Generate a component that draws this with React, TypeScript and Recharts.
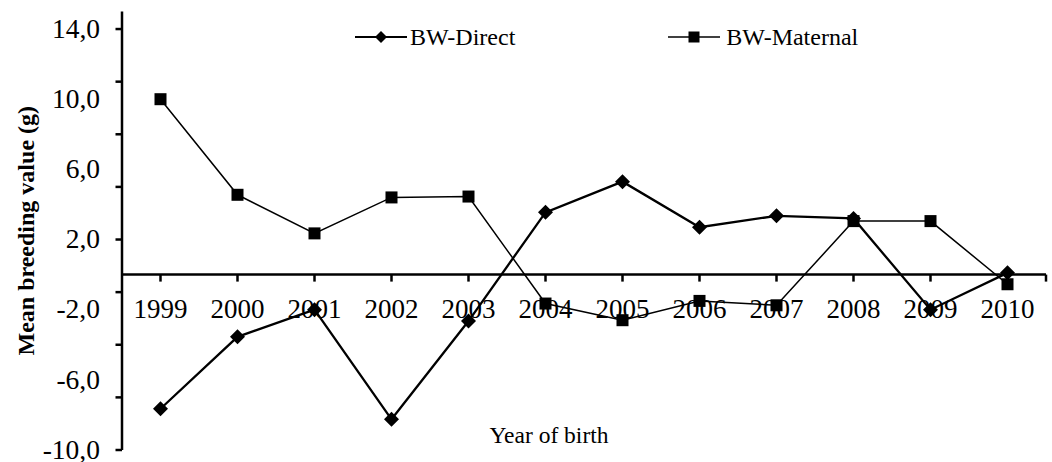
import { LineChart, Line, XAxis, YAxis, ReferenceLine, Legend } from "recharts";

const years = [1999, 2000, 2001, 2002, 2003, 2004, 2005, 2006, 2007, 2008, 2009, 2010];
const bwDirect = [-7.65, -3.55, -2.0, -8.25, -2.65, 3.55, 5.3, 2.7, 3.35, 3.2, -2.0, 0.1];
const bwMaternal = [10.0, 4.55, 2.35, 4.4, 4.45, -1.65, -2.6, -1.5, -1.75, 3.05, 3.05, -0.55];
const yLabelTicks = [14, 10, 6, 2, -2, -6, -10];
const yMarkTicks = [14, 11, 8, 5, 2, -1, -4, -7, -10];
const xTicks = [...years, 2010.5];

const data = years.map((year, i) => ({
  year,
  direct: bwDirect[i],
  maternal: bwMaternal[i],
}));

const W = 1052;
const H = 462;
const M = { top: 11.5, right: 6, bottom: 11, left: 0 };
const Y_AXIS_W = 122;
const X_AXIS_H = 1;
const Y_MIN = -10;
const Y_MAX = 15;
const PLOT_H = H - M.top - M.bottom - X_AXIS_H;
// pixel row of y = 0, where the category axis sits
const ZERO_Y = M.top + ((Y_MAX - 0) / (Y_MAX - Y_MIN)) * PLOT_H;

const FONT = '"Liberation Serif", "Times New Roman", serif';

const yTickValues = [...new Set([...yLabelTicks, ...yMarkTicks])].sort((a, b) => b - a);

const fmt = (v: number) => v.toFixed(1).replace(".", ",");

function YTick(props: any) {
  const { y, payload } = props;
  const v = payload.value;
  return (
    <g>
      {yMarkTicks.includes(v) && (
        <line x1={Y_AXIS_W - 6.5} x2={Y_AXIS_W} y1={y} y2={y} stroke="#000" strokeWidth={2.5} />
      )}
      {yLabelTicks.includes(v) && (
        <text x={100} y={y} dy="0.32em" textAnchor="end" fontFamily={FONT} fontSize={27.5} fill="#000">
          {fmt(v)}
        </text>
      )}
    </g>
  );
}

function XTick(props: any) {
  const { x, payload } = props;
  const v = payload.value;
  return (
    <g>
      <line x1={x} x2={x} y1={ZERO_Y} y2={ZERO_Y + 7} stroke="#000" strokeWidth={2.5} />
      {Number.isInteger(v) && (
        <text x={x} y={ZERO_Y + 34} dy="0.36em" textAnchor="middle" fontFamily={FONT} fontSize={27} fill="#000">
          {v}
        </text>
      )}
    </g>
  );
}

function DiamondDot(props: any) {
  const { cx, cy, index } = props;
  const r = 7.5;
  return (
    <path
      key={`d-${index}`}
      d={`M${cx},${cy - r}L${cx + r},${cy}L${cx},${cy + r}L${cx - r},${cy}Z`}
      fill="#000"
    />
  );
}

function SquareDot(props: any) {
  const { cx, cy, index } = props;
  const s = 12;
  return <rect key={`s-${index}`} x={cx - s / 2} y={cy - s / 2} width={s} height={s} fill="#000" />;
}

function LegendContent() {
  return (
    <div
      style={{
        display: "flex",
        alignItems: "center",
        fontFamily: FONT,
        fontSize: 24,
        lineHeight: "28px",
        color: "#000",
        whiteSpace: "nowrap",
      }}
    >
      <svg width={52} height={14} style={{ display: "block" }}>
        <line x1={0} x2={52} y1={7} y2={7} stroke="#000" strokeWidth={2.2} />
        <path d="M26,1L32,7L26,13L20,7Z" fill="#000" />
      </svg>
      <span style={{ marginLeft: 3 }}>BW-Direct</span>
      <svg width={52} height={14} style={{ display: "block", marginLeft: 153 }}>
        <line x1={0} x2={52} y1={7} y2={7} stroke="#000" strokeWidth={1.6} />
        <rect x={20.5} y={1.5} width={11} height={11} fill="#000" />
      </svg>
      <span style={{ marginLeft: 6 }}>BW-Maternal</span>
    </div>
  );
}

export default function App() {
  return (
    <div style={{ position: "absolute", left: 0, top: 0, background: "#fff" }}>
      <LineChart width={W} height={H} data={data} margin={M}>
        <XAxis
          dataKey="year"
          type="number"
          domain={[1998.5, 2010.5]}
          ticks={xTicks}
          interval={0}
          height={X_AXIS_H}
          axisLine={false}
          tickLine={false}
          tick={XTick}
          label={{
            content: (p: any) => (
              <text
                x={p.viewBox.x + 427}
                y={p.viewBox.y - 7}
                textAnchor="middle"
                fontFamily={FONT}
                fontSize={23.5}
                fill="#000"
              >
                Year of birth
              </text>
            ),
          }}
        />
        <YAxis
          type="number"
          domain={[Y_MIN, Y_MAX]}
          ticks={yTickValues}
          interval={0}
          width={Y_AXIS_W}
          axisLine={{ stroke: "#000", strokeWidth: 2.5 }}
          tickLine={false}
          tick={YTick}
          allowDataOverflow
          label={{
            content: (p: any) => {
              const cx = 26;
              const cy = p.viewBox.y + p.viewBox.height / 2;
              return (
                <text
                  x={cx}
                  y={cy}
                  transform={`rotate(-90 ${cx} ${cy})`}
                  textAnchor="middle"
                  dy="0.35em"
                  fontFamily={FONT}
                  fontWeight="bold"
                  fontSize={24}
                  fill="#000"
                >
                  Mean breeding value (g)
                </text>
              );
            },
          }}
        />
        <ReferenceLine y={0} stroke="#000" strokeWidth={2.5} />
        <Legend
          layout="horizontal"
          verticalAlign="middle"
          align="center"
          content={LegendContent}
          wrapperStyle={{ left: 355, top: 23, width: "auto", height: 28 }}
        />
        <Line
          dataKey="direct"
          name="BW-Direct"
          type="linear"
          stroke="#000"
          strokeWidth={2.3}
          dot={DiamondDot}
          activeDot={false}
          isAnimationActive={false}
        />
        <Line
          dataKey="maternal"
          name="BW-Maternal"
          type="linear"
          stroke="#000"
          strokeWidth={1.5}
          dot={SquareDot}
          activeDot={false}
          isAnimationActive={false}
        />
      </LineChart>
    </div>
  );
}
